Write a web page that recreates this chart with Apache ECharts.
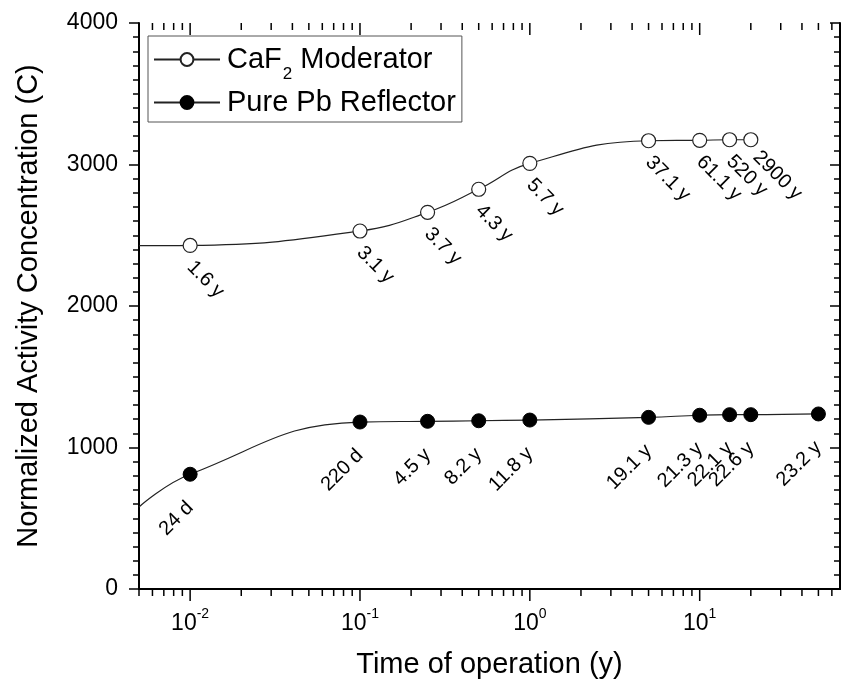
<!DOCTYPE html>
<html><head><meta charset="utf-8">
<script src="https://cdn.jsdelivr.net/npm/echarts@6/dist/echarts.min.js"></script>
<style>html,body{margin:0;padding:0;background:#fff}#c{width:841px;height:685px}</style>
</head><body><div id="c"></div>
<script>
// ---- data ----
const timeYears = [0.01, 0.1, 0.25, 0.5, 1, 5, 10, 15, 20, 50];
const cafValues = [2428, 2530, 2662, 2825, 3008, 3168, 3171, 3175, 3175];
const cafLabels = ['1.6 y', '3.1 y', '3.7 y', '4.3 y', '5.7 y', '37.1 y', '61.1 y', '520 y', '2900 y'];
const pbValues = [811, 1180, 1185, 1189, 1194, 1213, 1228, 1232, 1232, 1237];
const pbLabels = ['24 d', '220 d', '4.5 y', '8.2 y', '11.8 y', '19.1 y', '21.3 y', '22.1 y', '22.6 y', '23.2 y'];
const cafCurveAtLeftEdge = 2426;
const pbCurveAtLeftEdge = 580;
const xMin = 0.005, xMax = 67;
const yMin = 0, yMax = 4000, yStep = 1000;
const xMajorTicks = [0.01, 0.1, 1, 10];
const xMinorTicks = [];
for (let e = -3; e <= 1; e++) for (let m = 2; m <= 9; m++) {
  const v = +(m * Math.pow(10, e)).toPrecision(6);
  if (v >= xMin && v <= xMax) xMinorTicks.push(v);
}

const FONT = "'Liberation Sans', Arial, sans-serif";
// label placement tweaks (style only)
const cafLabelShift = { 8: [-1, -3] };

function buildData(values, labels, edge, shifts) {
  const d = [{ value: [xMin, edge], symbol: 'none', label: { show: false } }];
  values.forEach((v, i) => {
    const item = { value: [timeYears[i], v], name: labels[i] };
    if (shifts && shifts[i]) {
      item.label = { position: [7 + 7 + shifts[i][0], 14 + 11 + shifts[i][1]] };
    }
    d.push(item);
  });
  return d;
}

const tickData = xMajorTicks.map(v => [v, 0, 12]).concat(xMinorTicks.map(v => [v, 0, 7]));

const chart = echarts.init(document.getElementById('c'), null, { renderer: 'canvas' });
chart.setOption({
  backgroundColor: '#fff',
  animation: false,
  textStyle: { fontFamily: FONT },
  grid: { left: 139, right: 1, top: 23, bottom: 96, containLabel: false },
  legend: {
    orient: 'vertical', left: 148, top: 36,
    padding: [0, 6, 5, 5],
    itemGap: 5, itemWidth: 66, itemHeight: 16,
    borderColor: '#555', borderWidth: 1,
    data: ['CaF2 Moderator', 'Pure Pb Reflector'],
    formatter: n => n === 'CaF2 Moderator' ? '{t|CaF}{s|2}{t| Moderator}' : '{t|' + n + '}',
    textStyle: {
      color: '#000', fontFamily: FONT, padding: [0, 0, 0, 2],
      rich: {
        t: { fontSize: 29, lineHeight: 43, fontFamily: FONT, color: '#000', verticalAlign: 'middle' },
        s: { fontSize: 17, lineHeight: 17, fontFamily: FONT, color: '#000', verticalAlign: 'middle', padding: [30, 0, 0, 1] }
      }
    }
  },
  xAxis: [{
    type: 'log', logBase: 10, min: xMin, max: xMax, position: 'bottom',
    name: 'Time of operation (y)', nameLocation: 'middle', nameGap: 61,
    nameTextStyle: { fontSize: 29, color: '#000', fontFamily: FONT },
    axisLine: { show: true, lineStyle: { color: '#000', width: 2 } },
    axisTick: { show: false }, minorTick: { show: false }, splitLine: { show: false },
    axisLabel: {
      margin: 18, color: '#000', showMinLabel: false, showMaxLabel: false,
      formatter: v => {
        const e = Math.log10(v);
        if (Math.abs(e - Math.round(e)) > 1e-6) return '';
        return '{b|10}{s|' + Math.round(e) + '}';
      },
      rich: {
        b: { fontSize: 23, fontFamily: FONT, color: '#000', verticalAlign: 'bottom', lineHeight: 28 },
        s: { fontSize: 14, fontFamily: FONT, color: '#000', verticalAlign: 'top', lineHeight: 14 }
      }
    }
  }, {
    type: 'log', logBase: 10, min: xMin, max: xMax, position: 'top',
    axisLine: { show: true, lineStyle: { color: '#000', width: 2 } },
    axisTick: { show: false }, axisLabel: { show: false }, splitLine: { show: false }
  }],
  yAxis: [{
    type: 'value', min: yMin, max: yMax, interval: yStep, position: 'left',
    name: 'Normalized Activity Concentration (C)', nameLocation: 'middle', nameGap: 96,
    nameTextStyle: { fontSize: 29, color: '#000', fontFamily: FONT },
    axisLine: { show: true, lineStyle: { color: '#000', width: 2 } },
    axisTick: { show: true, length: 10, lineStyle: { color: '#000', width: 1.5 } },
    minorTick: { show: true, splitNumber: 10, length: 6, lineStyle: { color: '#000', width: 1.5 } },
    splitLine: { show: false },
    axisLabel: { fontSize: 23, color: '#000', margin: 21, fontFamily: FONT, formatter: v => String(v) }
  }, {
    type: 'value', min: yMin, max: yMax, interval: yStep, position: 'right',
    axisLine: { show: true, lineStyle: { color: '#000', width: 2 } },
    axisTick: { show: true, inside: true, length: 10, lineStyle: { color: '#000', width: 1.5 } },
    minorTick: { show: true, splitNumber: 10, length: 6, lineStyle: { color: '#000', width: 1.5 } },
    splitLine: { show: false }, axisLabel: { show: false }
  }],
  series: [{
    name: 'CaF2 Moderator', type: 'line', smooth: 0.45,
    data: buildData(cafValues, cafLabels, cafCurveAtLeftEdge, cafLabelShift),
    symbol: 'circle', symbolSize: 14, showAllSymbol: true,
    lineStyle: { color: '#222', width: 1.2 },
    itemStyle: { color: '#fff', borderColor: '#222', borderWidth: 1.2 },
    label: {
      show: true, position: 'bottom', distance: 11, rotate: -45,
      align: 'left', verticalAlign: 'middle',
      fontSize: 20, color: '#000', fontFamily: FONT,
      formatter: p => p.name
    },
    z: 3
  }, {
    name: 'Pure Pb Reflector', type: 'line', smooth: 0.45,
    data: buildData(pbValues, pbLabels, pbCurveAtLeftEdge),
    symbol: 'circle', symbolSize: 14, showAllSymbol: true,
    lineStyle: { color: '#222', width: 1.2 },
    itemStyle: { color: '#000', borderColor: '#000', borderWidth: 1 },
    label: {
      show: true, position: 'bottom', distance: 23, rotate: 45,
      align: 'right', verticalAlign: 'middle',
      fontSize: 20, color: '#000', fontFamily: FONT,
      formatter: p => p.name
    },
    z: 3
  }, {
    type: 'custom', silent: true, clip: false,
    xAxisIndex: 0, yAxisIndex: 0,
    data: tickData,
    renderItem: (params, api) => {
      const v = api.value(0), len = api.value(2);
      const b = api.coord([v, yMin]);
      const t = api.coord([v, yMax]);
      const st = { stroke: '#000', lineWidth: 1.5 };
      return { type: 'group', children: [
        { type: 'line', shape: { x1: b[0], y1: b[1], x2: b[0], y2: b[1] + len }, style: st },
        { type: 'line', shape: { x1: t[0], y1: t[1], x2: t[0], y2: t[1] + len }, style: st }
      ] };
    },
    z: 1
  }]
});
</script>
</body></html>
